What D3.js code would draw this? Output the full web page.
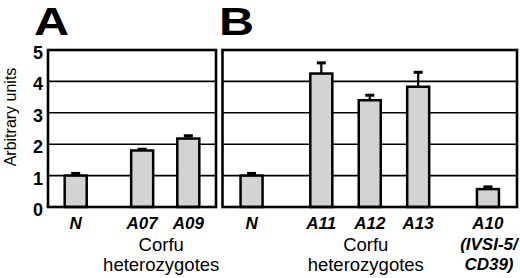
<!DOCTYPE html>
<html>
<head>
<meta charset="utf-8">
<script src="https://cdn.jsdelivr.net/npm/d3@7"></script>
<style>
  html, body { margin: 0; padding: 0; background: #fff; }
  svg { display: block; font-family: "Liberation Sans", Arial, Helvetica, sans-serif; }
</style>
</head>
<body>
<svg id="chart" width="520" height="278"></svg>
<script>
// ---- data ----
const yTicks = [0, 1, 2, 3, 4, 5];
const yLabel = "Arbitrary units";

const panelALetter = "A";
const panelACategories = ["N", "A07", "A09"];
const panelAGroups = [0, 1, 1];
const panelAValues = [1.0, 1.80, 2.18];
const panelAErrors = [0.07, 0.04, 0.09];
const panelAGroupLabels = [null, ["Corfu", "heterozygotes"]];

const panelBLetter = "B";
const panelBCategories = ["N", "A11", "A12", "A13", "A10"];
const panelBSubLabels = [[], [], [], [], ["(IVSI-5/", "CD39)"]];
const panelBGroups = [0, 1, 1, 1, 2];
const panelBValues = [1.0, 4.25, 3.40, 3.83, 0.57];
const panelBErrors = [0.07, 0.34, 0.16, 0.46, 0.07];
const panelBGroupLabels = [null, ["Corfu", "heterozygotes"], null];

// ---- layout ----
const svg = d3.select("#chart");
const y = d3.scaleLinear().domain([0, 5]).range([207, 50]);
const GAP = 0.44, PAD = 0.6;

function drawPanel(cfg) {
  const pos = cfg.cats.map((c, i) => i + cfg.groups[i] * GAP);
  const x = d3.scaleLinear()
    .domain([-PAD, pos[pos.length - 1] + PAD])
    .range([cfg.x0, cfg.x1]);
  const g = svg.append("g");

  // gridlines
  g.selectAll("line.grid").data(yTicks.filter(t => t > 0 && t < 5)).join("line")
    .attr("x1", cfg.x0).attr("x2", cfg.x1)
    .attr("y1", d => y(d)).attr("y2", d => y(d))
    .attr("stroke", "#000").attr("stroke-width", 1.6);

  const bw = 22;
  // error bars
  g.selectAll("line.err").data(cfg.cats).join("line")
    .attr("x1", (d, i) => x(pos[i])).attr("x2", (d, i) => x(pos[i]))
    .attr("y1", (d, i) => y(cfg.vals[i])).attr("y2", (d, i) => y(cfg.vals[i] + cfg.errs[i]))
    .attr("stroke", "#000").attr("stroke-width", 2.2);
  g.selectAll("line.cap").data(cfg.cats).join("line")
    .attr("x1", (d, i) => x(pos[i]) - 4.5).attr("x2", (d, i) => x(pos[i]) + 4.5)
    .attr("y1", (d, i) => y(cfg.vals[i] + cfg.errs[i])).attr("y2", (d, i) => y(cfg.vals[i] + cfg.errs[i]))
    .attr("stroke", "#000").attr("stroke-width", 3);

  // bars
  g.selectAll("rect.bar").data(cfg.cats).join("rect")
    .attr("x", (d, i) => x(pos[i]) - bw / 2)
    .attr("width", bw)
    .attr("y", (d, i) => y(cfg.vals[i]))
    .attr("height", (d, i) => y(0) - y(cfg.vals[i]))
    .attr("fill", "#d3d3d3").attr("stroke", "#000").attr("stroke-width", 2.5);

  // frame
  g.append("rect")
    .attr("x", cfg.x0).attr("y", y(5))
    .attr("width", cfg.x1 - cfg.x0).attr("height", y(0) - y(5))
    .attr("fill", "none").attr("stroke", "#000").attr("stroke-width", 2.6);

  // category labels
  cfg.cats.forEach((c, i) => {
    g.append("text")
      .attr("x", x(pos[i])).attr("y", 229)
      .attr("text-anchor", "middle")
      .attr("font-size", 17).attr("font-weight", "bold").attr("font-style", "italic")
      .text(c);
    (cfg.subs ? cfg.subs[i] : []).forEach((s, k) => {
      g.append("text")
        .attr("x", x(pos[i]) + 1).attr("y", 250 + k * 20)
        .attr("text-anchor", "middle")
        .attr("font-size", 17).attr("font-weight", "bold").attr("font-style", "italic")
        .text(s);
    });
  });

  // group labels
  cfg.groupLabels.forEach((lines, gi) => {
    if (!lines) return;
    const members = pos.filter((p, i) => cfg.groups[i] === gi);
    const cx = (x(d3.min(members)) + x(d3.max(members))) / 2 - 4;
    lines.forEach((s, k) => {
      g.append("text")
        .attr("x", cx).attr("y", 251 + k * 20)
        .attr("text-anchor", "middle")
        .attr("font-size", 18.5)
        .text(s);
    });
  });

  // panel letter
  svg.append("text")
    .attr("transform", `translate(${cfg.letterX},35) scale(1.28,1)`)
    .attr("font-size", 38).attr("font-weight", "bold")
    .text(cfg.letter);
}

drawPanel({
  x0: 48, x1: 216, cats: panelACategories, groups: panelAGroups,
  vals: panelAValues, errs: panelAErrors, groupLabels: panelAGroupLabels,
  letter: panelALetter, letterX: 34
});
drawPanel({
  x0: 222.5, x1: 517, cats: panelBCategories, groups: panelBGroups,
  vals: panelBValues, errs: panelBErrors, groupLabels: panelBGroupLabels,
  subs: panelBSubLabels, letter: panelBLetter, letterX: 219
});

// y axis tick labels
svg.selectAll("text.ytick").data(yTicks).join("text")
  .attr("x", 43).attr("y", d => y(d) + 3)
  .attr("dominant-baseline", "central")
  .attr("text-anchor", "end")
  .attr("font-size", 18).attr("font-weight", "bold")
  .text(d => d);

// y axis title
svg.append("text")
  .attr("transform", "translate(16,117) rotate(-90)")
  .attr("text-anchor", "middle")
  .attr("font-size", 16)
  .text(yLabel);
</script>
</body>
</html>
